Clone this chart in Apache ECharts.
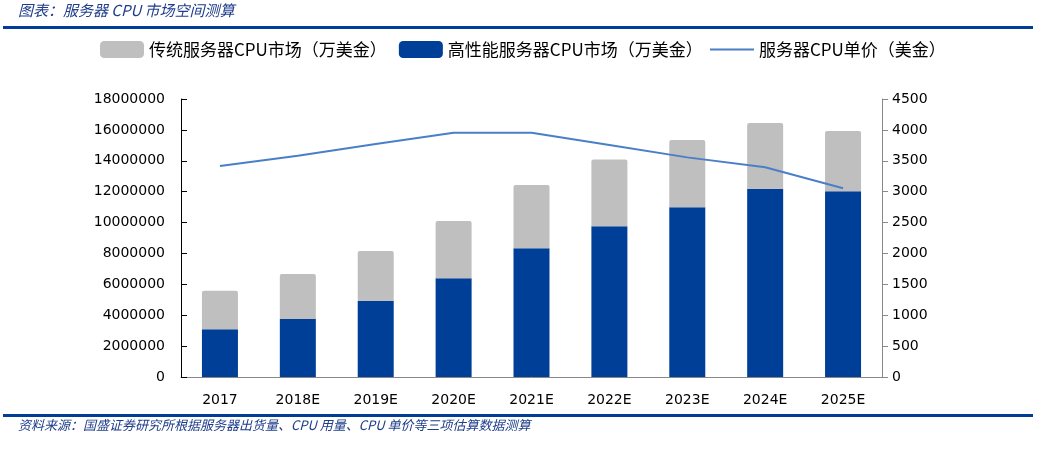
<!DOCTYPE html>
<html>
<head>
<meta charset="utf-8">
<script src="https://cdn.jsdelivr.net/npm/echarts@6/dist/echarts.min.js"></script>
<style>html,body{margin:0;padding:0;background:#fff}#c{width:1050px;height:450px}</style>
</head>
<body>
<div id="c"></div>
<script>
var categories = ['2017','2018E','2019E','2020E','2021E','2022E','2023E','2024E','2025E'];
var highPerfMarket = [3090000,3760000,4920000,6390000,8330000,9760000,10990000,12190000,12020000];
var traditionalMarket = [2500000,2910000,3240000,3710000,4100000,4330000,4360000,4260000,3910000];
var cpuPrice = [3415,3580,3770,3955,3955,3755,3555,3395,3055];
var seriesNames = ['传统服务器CPU市场（万美金）','高性能服务器CPU市场（万美金）','服务器CPU单价（美金）'];
var titleText = '图表：服务器 CPU 市场空间测算';
var sourceText = '资料来源：国盛证券研究所根据服务器出货量、CPU 用量、CPU 单价等三项估算数据测算';

var chart = echarts.init(document.getElementById('c'));
var axisFont = {fontFamily:'DejaVu Sans', fontSize:14, color:'#000'};
var legendText = {fontFamily:'Noto Sans CJK SC', fontSize:17, color:'#000'};
chart.setOption({
  animation:false,
  backgroundColor:'#fff',
  graphic:[
    {type:'text', left:18, top:3, style:{text:titleText, fill:'#1F3D8A', font:'italic 15px "Noto Sans CJK SC"'}},
    {type:'rect', shape:{x:3, y:26, width:1030, height:3}, style:{fill:'#003D99'}},
    {type:'rect', shape:{x:3, y:414, width:1030, height:3}, style:{fill:'#003D99'}},
    {type:'text', left:18, top:419, style:{text:sourceText, fill:'#1F3D8A', font:'italic 13px "Noto Sans CJK SC"'}}
  ],
  legend:[
    {top:36, left:95,
     itemWidth:44, itemHeight:17, itemGap:12,
     textStyle:legendText,
     data:[{name:seriesNames[0]},{name:seriesNames[1]}]},
    {top:36, left:705,
     itemWidth:44, itemHeight:2, icon:'rect',
     textStyle:legendText,
     data:[{name:seriesNames[2]}]}
  ],
  grid:{left:181, right:168, top:99, bottom:73},
  xAxis:{
    type:'category', data:categories,
    axisLine:{lineStyle:{color:'#888'}},
    axisTick:{inside:true, alignWithLabel:false, length:5, lineStyle:{color:'#000'}},
    axisLabel:Object.assign({margin:16}, axisFont)
  },
  yAxis:[
    {type:'value', min:0, max:18000000, interval:2000000,
     axisLine:{show:true, lineStyle:{color:'#000'}},
     axisTick:{show:true, inside:true, length:6, lineStyle:{color:'#000'}},
     splitLine:{show:false},
     axisLabel:Object.assign({margin:16, formatter:function(v){return String(v);}}, axisFont)},
    {type:'value', min:0, max:4500, interval:500,
     axisLine:{show:true, lineStyle:{color:'#888'}},
     axisTick:{show:true, inside:false, length:6, lineStyle:{color:'#888'}},
     splitLine:{show:false},
     axisLabel:Object.assign({margin:10, formatter:function(v){return String(v);}}, axisFont)}
  ],
  series:[
    {name:seriesNames[1], type:'bar', stack:'m', data:highPerfMarket, barWidth:36,
     itemStyle:{color:'#003F98'}},
    {name:seriesNames[0], type:'bar', stack:'m', data:traditionalMarket, barWidth:36,
     itemStyle:{color:'#BFBFBF', borderRadius:[2,2,0,0]}},
    {name:seriesNames[2], type:'line', yAxisIndex:1, data:cpuPrice, symbol:'none',
     lineStyle:{color:'#4A7FC8', width:2}, itemStyle:{color:'#4A7FC8'}}
  ]
});
</script>
</body>
</html>
